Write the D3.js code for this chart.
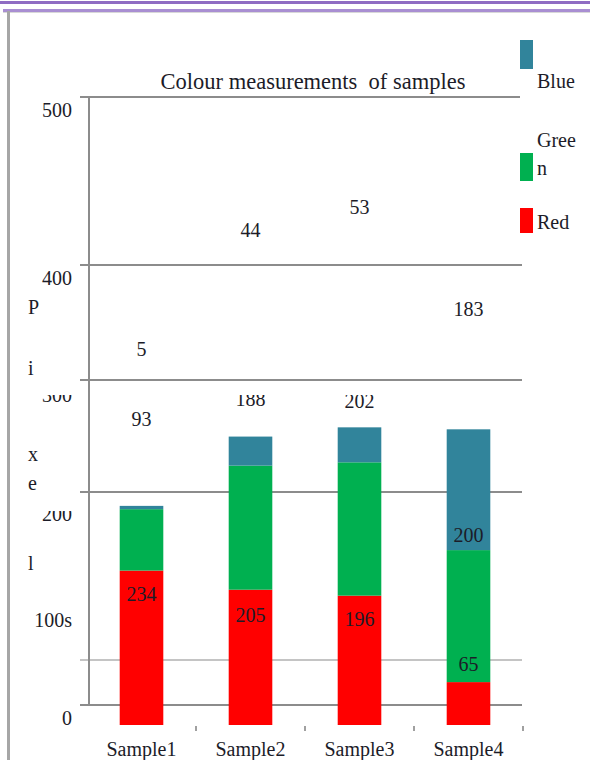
<!DOCTYPE html>
<html>
<head>
<meta charset="utf-8">
<script src="https://cdn.jsdelivr.net/npm/d3@7"></script>
<style>
  body { margin: 0; background: #fff; }
  text { font-family: "Liberation Serif", "DejaVu Serif", serif; fill: #1c1c28; }
</style>
</head>
<body>
<div id="chart"></div>
<script>
// data
const samples = ['Sample1', 'Sample2', 'Sample3', 'Sample4'];
const red = [234, 205, 196, 65];
const green = [93, 188, 202, 200];
const blue = [5, 44, 53, 183];
const yTicks = [0, 100, 200, 300, 400, 500];
const yTickLabels = ['0', '100s', '200', '300', '400', '500'];
const axisTitle = ['P', 'i', 'x', 'e', 'l'];
const seriesNames = ['Blue', 'Green', 'Red'];
const colors = { Red: '#ff0000', Green: '#00b050', Blue: '#31849b' };

const W = 590, H = 760;
const svg = d3.select('#chart').append('svg')
  .attr('width', W).attr('height', H);

// page frame
svg.append('rect').attr('x', 0).attr('y', 1).attr('width', W).attr('height', 3).attr('fill', '#8f6cc3');
svg.append('rect').attr('x', 3).attr('y', 9).attr('width', W - 3).attr('height', 3).attr('fill', '#a98fd2');
svg.append('rect').attr('x', 3).attr('y', 12).attr('width', W - 3).attr('height', 1).attr('fill', '#d8d8d8');
svg.append('rect').attr('x', 7).attr('y', 11).attr('width', 3).attr('height', H).attr('fill', '#a6a6a6');

// scales
const x = d3.scaleBand().domain(samples).range([87, 523]);
const barW = x.bandwidth() * 0.4;
const yBar = d3.scaleLinear().domain([0, 500]).range([725, 395]);
// the grid layer is drawn on its own (warped) scale
const yGrid = d3.scaleLinear().domain(yTicks).range([705, 660, 492, 380, 265, 97]);
const yTickText = d3.scaleLinear().domain(yTicks).range([725, 627, 521, 402, 285, 117]);
// value labels sit on a warped layer too
const yLab = d3.scaleLinear()
  .domain([0, 50, 100, 150, 200, 250, 300, 350, 400, 450])
  .range([688, 651, 618, 548, 503, 453, 398, 315, 265, 147]);

// clip paths for half-hidden labels
const defs = svg.append('defs');
defs.append('clipPath').attr('id', 'clipA')
  .append('rect').attr('x', 0).attr('y', 395).attr('width', W).attr('height', H);
defs.append('clipPath').attr('id', 'clipB')
  .append('rect').attr('x', 0).attr('y', 511).attr('width', W).attr('height', H);

// gridlines
svg.append('g').selectAll('line').data(yTicks).join('line')
  .attr('x1', 80).attr('x2', d => d === 500 ? 520 : 522)
  .attr('y1', d => yGrid(d)).attr('y2', d => yGrid(d))
  .attr('stroke', d => d === 100 ? '#c4c4c4' : '#8c8c8c')
  .attr('stroke-width', 2);

svg.append('line')
  .attr('x1', 89).attr('x2', 89)
  .attr('y1', yGrid(500)).attr('y2', yGrid(0))
  .attr('stroke', '#8c8c8c').attr('stroke-width', 2);

// y tick labels
svg.append('g').selectAll('text').data(yTicks).join('text')
  .attr('x', 72)
  .attr('y', d => yTickText(d))
  .attr('text-anchor', 'end')
  .attr('font-size', 20)
  .attr('clip-path', d => d === 300 ? 'url(#clipA)' : d === 200 ? 'url(#clipB)' : null)
  .text((d, i) => yTickLabels[i]);

// broken axis title letters
const titleY = [314, 375, 461, 490, 570];
svg.append('g').selectAll('text').data(axisTitle).join('text')
  .attr('x', 28)
  .attr('y', (d, i) => titleY[i])
  .attr('font-size', 20)
  .text(d => d);

// stacked bars
const rows = samples.map((s, i) => ({ sample: s, Red: red[i], Green: green[i], Blue: blue[i] }));
const stack = d3.stack().keys(['Red', 'Green', 'Blue'])(rows);

svg.append('g').selectAll('g').data(stack).join('g')
  .attr('fill', d => colors[d.key])
  .selectAll('rect').data(d => d).join('rect')
  .attr('x', d => x(d.data.sample) + (x.bandwidth() - barW) / 2)
  .attr('width', barW)
  .attr('y', d => yBar(d[1]))
  .attr('height', d => yBar(d[0]) - yBar(d[1]));

// value labels
svg.append('g').selectAll('g').data(stack).join('g')
  .selectAll('text').data(d => d).join('text')
  .attr('x', d => x(d.data.sample) + x.bandwidth() / 2)
  .attr('y', d => yLab((d[0] + d[1]) / 2))
  .attr('dy', '0.35em')
  .attr('text-anchor', 'middle')
  .attr('font-size', 20)
  .attr('fill', '#111')
  .attr('clip-path', d => {
    const y = yLab((d[0] + d[1]) / 2);
    return y > 380 && y < 410 ? 'url(#clipA)' : null;
  })
  .text(d => d[1] - d[0]);

// x axis ticks and labels
svg.append('g').selectAll('line').data(samples.slice(1).concat(['end'])).join('line')
  .attr('x1', d => d === 'end' ? x.range()[1] : x(d))
  .attr('x2', d => d === 'end' ? x.range()[1] : x(d))
  .attr('y1', 726).attr('y2', 731)
  .attr('stroke', '#a0a0a0').attr('stroke-width', 2);

svg.append('g').selectAll('text').data(samples).join('text')
  .attr('x', d => x(d) + x.bandwidth() / 2)
  .attr('y', 756)
  .attr('text-anchor', 'middle')
  .attr('font-size', 20)
  .text(d => d);

// title
svg.append('text')
  .attr('x', 313).attr('y', 89)
  .attr('text-anchor', 'middle')
  .attr('font-size', 22.5)
  .style('white-space', 'pre')
  .text('Colour measurements  of samples');

// legend (broken layout as in the source)
const legend = svg.append('g');
const legendRects = { Blue: [40, 69], Green: [153, 181], Red: [208, 233] };
seriesNames.forEach(name => {
  const [y0, y1] = legendRects[name];
  legend.append('rect')
    .attr('x', 520).attr('y', y0)
    .attr('width', 13).attr('height', y1 - y0)
    .attr('fill', colors[name]);
});
legend.append('text').attr('x', 537).attr('y', 88).attr('font-size', 20).text('Blue');
legend.append('text').attr('x', 537).attr('y', 147).attr('font-size', 20).text('Gree');
legend.append('text').attr('x', 537).attr('y', 175).attr('font-size', 20).text('n');
legend.append('text').attr('x', 537).attr('y', 229).attr('font-size', 20).text('Red');
</script>
</body>
</html>
